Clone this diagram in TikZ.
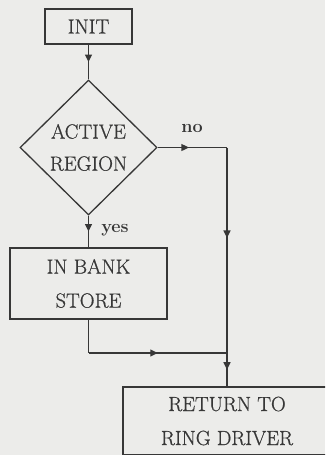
\documentclass[tikz,border=0pt]{standalone}
\usepackage{fontspec}
\newfontfamily\heavy[FakeBold=0.7]{Latin Modern Roman}
\usetikzlibrary{shapes.geometric,decorations.markings,arrows.meta}
\definecolor{bg}{RGB}{236,236,234}
\definecolor{ink}{RGB}{55,55,55}
\tikzset{
  box/.style={draw=ink, line width=1.3pt, rectangle, inner sep=0pt, align=center,
    text=ink, font=\heavy\fontsize{20.5}{34}\selectfont},
  dia/.style={draw=ink, line width=1.3pt, diamond, inner sep=0pt, align=center,
    text=ink, font=\heavy\fontsize{20.5}{32}\selectfont, minimum width=137pt, minimum height=135pt},
  conn/.style={draw=ink, line width=1.3pt},
  midarrow/.style={conn, postaction={decorate}, decoration={markings,
    mark=at position #1 with {\arrow{Triangle[length=7.5pt,width=7pt]}}}},
  midarrow/.default=0.5,
  lab/.style={text=ink, font=\bfseries\fontsize{18}{18}\selectfont, inner sep=0pt}
}
\begin{document}
\begin{tikzpicture}[x=1pt,y=-1pt]
\clip (0,0) rectangle (325,455);
\fill[bg] (0,0) rectangle (325,455);
\node[box, minimum width=87pt, minimum height=35pt] (init) at (88.5,26.5) {INIT};
\node[dia] (act) at (88.5,147.5) {ACTIVE\\REGION};
\node[box, minimum width=157pt, minimum height=71pt] (bank) at (88.5,283.5) {IN BANK\\STORE};
\node[box, minimum width=208pt, minimum height=68pt] (ret) at (227,421) {RETURN TO\\RING DRIVER};
\coordinate (c1) at (227,147.5);
\coordinate (j) at (227,353);
\coordinate (c2) at (88.5,353);
\draw[midarrow] (init.south) -- (act.north);
\draw[midarrow=0.45] (act.east) -- (c1);
\draw[midarrow=0.44] (c1) -- (j);
\draw[midarrow] (j) -- (ret.north);
\draw[midarrow] (act.south) -- (bank.north);
\draw[conn] (bank.south) -- (c2);
\draw[midarrow] (c2) -- (j);
\node[lab] (no) at (192,128) {no};
\node[lab] (yes) at (115,230) {yes};
\end{tikzpicture}
\end{document}
